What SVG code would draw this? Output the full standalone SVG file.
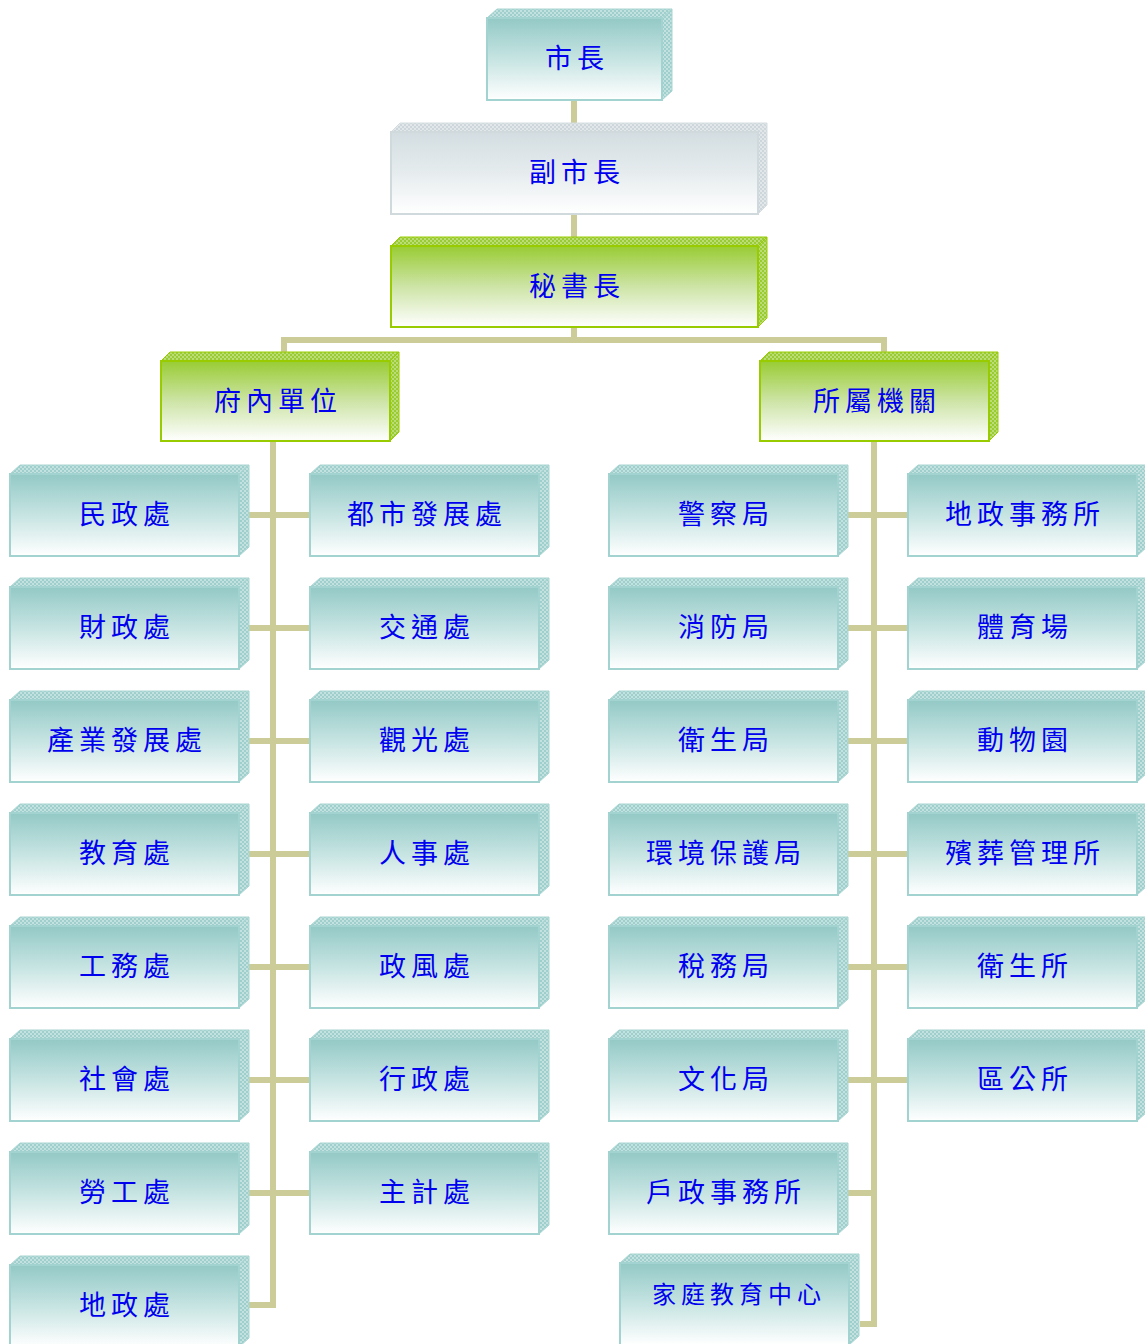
<svg xmlns="http://www.w3.org/2000/svg" xmlns:xlink="http://www.w3.org/1999/xlink" width="1145" height="1344" viewBox="0 0 1145 1344">
<style>
.t{font-family:"Noto Sans CJK TC","Noto Sans CJK SC",sans-serif;font-size:27px;fill:#0000ee;text-anchor:middle;letter-spacing:5px}
.c{fill:none;stroke:#cccc99;stroke-width:6}
</style>
<defs>
<linearGradient id="gT" x1="0" y1="0" x2="0" y2="1"><stop offset="0" stop-color="#93c9c6"/><stop offset="0.5" stop-color="#c6e4e2"/><stop offset="1" stop-color="#ffffff"/></linearGradient>
<linearGradient id="gG" x1="0" y1="0" x2="0" y2="1"><stop offset="0" stop-color="#99cc33"/><stop offset="0.5" stop-color="#cde4a6"/><stop offset="1" stop-color="#ffffff"/></linearGradient>
<linearGradient id="gY" x1="0" y1="0" x2="0" y2="1"><stop offset="0" stop-color="#d3dde1"/><stop offset="0.5" stop-color="#e6ecee"/><stop offset="1" stop-color="#ffffff"/></linearGradient>
<pattern id="pT" width="4" height="4" patternUnits="userSpaceOnUse"><rect width="4" height="4" fill="#c2e1df"/><path d="M0 0h2v2h-2zM2 2h2v2h-2z" fill="#9fcfcc"/></pattern>
<pattern id="pG" width="4" height="4" patternUnits="userSpaceOnUse"><rect width="4" height="4" fill="#bcdc78"/><path d="M0 0h2v2h-2zM2 2h2v2h-2z" fill="#99cc33"/></pattern>
<pattern id="pY" width="4" height="4" patternUnits="userSpaceOnUse"><rect width="4" height="4" fill="#e2e8ea"/><path d="M0 0h2v2h-2zM2 2h2v2h-2z" fill="#cdd6da"/></pattern>
<g id="tb">
<polygon points="0,0 10,-9 239,-9 229,0" fill="url(#pT)" stroke="#a8d5d2" stroke-width="1"/>
<polygon points="229,0 239,-9 239,73 229,82" fill="url(#pT)" stroke="#a8d5d2" stroke-width="1"/>
<rect x="0" y="0" width="229" height="82" fill="url(#gT)" stroke="#a3d3d0" stroke-width="2"/>
</g>
</defs>

<g id="connectors">
<path class="c" d="M574 100V132M574 214V246M574 327V340M284 352V340H884V352"/>
<path class="c" d="M273 441V1305H248"/>
<path class="c" d="M874 441V1324H860"/>
<path class="c" d="M248 515H310M248 628H310M248 741H310M248 854H310M248 967H310M248 1080H310M248 1193H310"/>
<path class="c" d="M848 515H908M848 628H908M848 741H908M848 854H908M848 967H908M848 1080H908M848 1193H874"/>
</g>

<g id="n-mayor">
<polygon points="487,18 497,9 672,9 662,18" fill="url(#pT)" stroke="#a8d5d2"/>
<polygon points="662,18 672,9 672,91 662,100" fill="url(#pT)" stroke="#a8d5d2"/>
<rect x="487" y="18" width="175" height="82" fill="url(#gT)" stroke="#a3d3d0" stroke-width="2"/>
<text class="t" x="577" y="68">市長</text>
</g>
<g id="n-deputy">
<polygon points="391,132 400,123 767,123 758,132" fill="url(#pY)" stroke="#d5dde0"/>
<polygon points="758,132 767,123 767,205 758,214" fill="url(#pY)" stroke="#d5dde0"/>
<rect x="391" y="132" width="367" height="82" fill="url(#gY)" stroke="#d0dadd" stroke-width="2"/>
<text class="t" x="577" y="182">副市長</text>
</g>
<g id="n-secretary">
<polygon points="391,246 400,237 767,237 758,246" fill="url(#pG)" stroke="#99cc00"/>
<polygon points="758,246 767,237 767,318 758,327" fill="url(#pG)" stroke="#99cc00"/>
<rect x="391" y="246" width="367" height="81" fill="url(#gG)" stroke="#99cc00" stroke-width="2"/>
<text class="t" x="577" y="296">秘書長</text>
</g>
<g id="n-internal">
<polygon points="161,361 170,352 399,352 390,361" fill="url(#pG)" stroke="#99cc00"/>
<polygon points="390,361 399,352 399,432 390,441" fill="url(#pG)" stroke="#99cc00"/>
<rect x="161" y="361" width="229" height="80" fill="url(#gG)" stroke="#99cc00" stroke-width="2"/>
<text class="t" x="278" y="411">府內單位</text>
</g>
<g id="n-affiliated">
<polygon points="760,361 769,352 998,352 989,361" fill="url(#pG)" stroke="#99cc00"/>
<polygon points="989,361 998,352 998,432 989,441" fill="url(#pG)" stroke="#99cc00"/>
<rect x="760" y="361" width="229" height="80" fill="url(#gG)" stroke="#99cc00" stroke-width="2"/>
<text class="t" x="877" y="411">所屬機關</text>
</g>

<g id="n-c1r1"><use xlink:href="#tb" transform="translate(10,474)"/><text class="t" x="127" y="524">民政處</text></g>
<g id="n-c1r2"><use xlink:href="#tb" transform="translate(10,587)"/><text class="t" x="127" y="637">財政處</text></g>
<g id="n-c1r3"><use xlink:href="#tb" transform="translate(10,700)"/><text class="t" x="127" y="750">產業發展處</text></g>
<g id="n-c1r4"><use xlink:href="#tb" transform="translate(10,813)"/><text class="t" x="127" y="863">教育處</text></g>
<g id="n-c1r5"><use xlink:href="#tb" transform="translate(10,926)"/><text class="t" x="127" y="976">工務處</text></g>
<g id="n-c1r6"><use xlink:href="#tb" transform="translate(10,1039)"/><text class="t" x="127" y="1089">社會處</text></g>
<g id="n-c1r7"><use xlink:href="#tb" transform="translate(10,1152)"/><text class="t" x="127" y="1202">勞工處</text></g>
<g id="n-c1r8"><use xlink:href="#tb" transform="translate(10,1265)"/><text class="t" x="127" y="1315">地政處</text></g>

<g id="n-c2r1"><use xlink:href="#tb" transform="translate(310,474)"/><text class="t" x="427" y="524">都市發展處</text></g>
<g id="n-c2r2"><use xlink:href="#tb" transform="translate(310,587)"/><text class="t" x="427" y="637">交通處</text></g>
<g id="n-c2r3"><use xlink:href="#tb" transform="translate(310,700)"/><text class="t" x="427" y="750">觀光處</text></g>
<g id="n-c2r4"><use xlink:href="#tb" transform="translate(310,813)"/><text class="t" x="427" y="863">人事處</text></g>
<g id="n-c2r5"><use xlink:href="#tb" transform="translate(310,926)"/><text class="t" x="427" y="976">政風處</text></g>
<g id="n-c2r6"><use xlink:href="#tb" transform="translate(310,1039)"/><text class="t" x="427" y="1089">行政處</text></g>
<g id="n-c2r7"><use xlink:href="#tb" transform="translate(310,1152)"/><text class="t" x="427" y="1202">主計處</text></g>

<g id="n-c3r1"><use xlink:href="#tb" transform="translate(609,474)"/><text class="t" x="726" y="524">警察局</text></g>
<g id="n-c3r2"><use xlink:href="#tb" transform="translate(609,587)"/><text class="t" x="726" y="637">消防局</text></g>
<g id="n-c3r3"><use xlink:href="#tb" transform="translate(609,700)"/><text class="t" x="726" y="750">衛生局</text></g>
<g id="n-c3r4"><use xlink:href="#tb" transform="translate(609,813)"/><text class="t" x="726" y="863">環境保護局</text></g>
<g id="n-c3r5"><use xlink:href="#tb" transform="translate(609,926)"/><text class="t" x="726" y="976">稅務局</text></g>
<g id="n-c3r6"><use xlink:href="#tb" transform="translate(609,1039)"/><text class="t" x="726" y="1089">文化局</text></g>
<g id="n-c3r7"><use xlink:href="#tb" transform="translate(609,1152)"/><text class="t" x="726" y="1202">戶政事務所</text></g>
<g id="n-c3r8"><use xlink:href="#tb" transform="translate(620,1263)"/><text class="t" x="739" y="1303" style="font-size:24px">家庭教育中心</text></g>

<g id="n-c4r1"><use xlink:href="#tb" transform="translate(908,474)"/><text class="t" x="1025" y="524">地政事務所</text></g>
<g id="n-c4r2"><use xlink:href="#tb" transform="translate(908,587)"/><text class="t" x="1025" y="637">體育場</text></g>
<g id="n-c4r3"><use xlink:href="#tb" transform="translate(908,700)"/><text class="t" x="1025" y="750">動物園</text></g>
<g id="n-c4r4"><use xlink:href="#tb" transform="translate(908,813)"/><text class="t" x="1025" y="863">殯葬管理所</text></g>
<g id="n-c4r5"><use xlink:href="#tb" transform="translate(908,926)"/><text class="t" x="1025" y="976">衛生所</text></g>
<g id="n-c4r6"><use xlink:href="#tb" transform="translate(908,1039)"/><text class="t" x="1025" y="1089">區公所</text></g>
</svg>
